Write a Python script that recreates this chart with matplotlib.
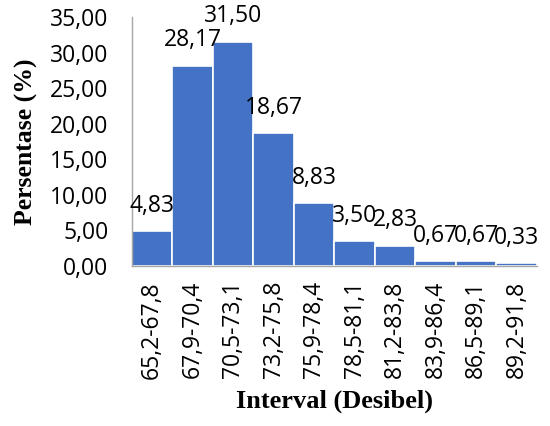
import matplotlib
matplotlib.use("Agg")
import matplotlib.pyplot as plt

categories = ["65,2-67,8", "67,9-70,4", "70,5-73,1", "73,2-75,8", "75,9-78,4",
              "78,5-81,1", "81,2-83,8", "83,9-86,4", "86,5-89,1", "89,2-91,8"]
values = [4.83, 28.17, 31.50, 18.67, 8.83, 3.50, 2.83, 0.67, 0.67, 0.33]
yticks = [0, 5, 10, 15, 20, 25, 30, 35]

sans = ["Open Sans", "DejaVu Sans"]
serif = ["Liberation Serif", "DejaVu Serif"]
fs = 16.5

fig = plt.figure(figsize=(5.5, 4.26), dpi=100)
ax = fig.add_axes([0.24, 0.376, 0.736, 0.584])

x = list(range(len(categories)))
ax.bar(x, values, width=1.0, color="#4472C4", edgecolor="white", linewidth=1.2)

def fmt(v):
    return f"{v:.2f}".replace(".", ",")

for xi, v in zip(x, values):
    ax.annotate(fmt(v), xy=(xi, v), xytext=(0, 14), textcoords="offset points",
                ha="center", va="baseline", fontsize=fs, family=sans, color="black")

ax.set_xlim(-0.5, len(categories) - 0.5)
ax.set_ylim(0, 35)
ax.set_yticks(yticks)
ax.set_yticklabels([fmt(t) for t in yticks], family=sans, fontsize=fs)
ax.set_xticks(x)
ax.set_xticklabels(categories, rotation=90, family=sans, fontsize=fs)
ax.tick_params(axis="y", length=0, pad=17)
ax.tick_params(axis="x", length=0, pad=11)

for s in ["top", "right"]:
    ax.spines[s].set_visible(False)
for s in ["left", "bottom"]:
    ax.spines[s].set_color("#A6A6A6")
    ax.spines[s].set_linewidth(1.0)

ax.set_ylabel("Persentase (%)", family=serif, fontweight="bold", fontsize=18.5, labelpad=9)
ax.set_xlabel("Interval (Desibel)", family=serif, fontweight="bold", fontsize=19, labelpad=8)

fig.savefig("out.png", dpi=100)
